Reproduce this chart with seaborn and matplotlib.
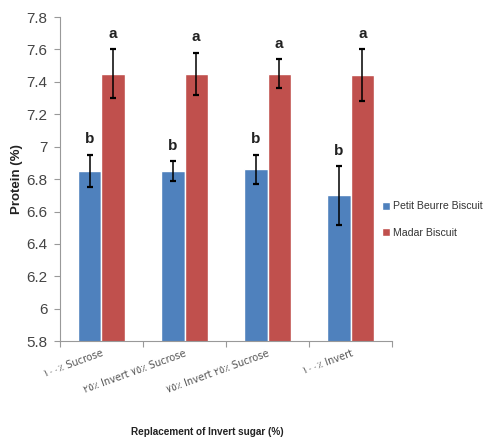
import numpy as np
import pandas as pd
import matplotlib
matplotlib.use("Agg")
import matplotlib.pyplot as plt
import seaborn as sns

sns.set_style("white")
plt.rcParams['font.family'] = ['Liberation Sans', 'DejaVu Sans']

# data
categories = ["١٠٠٪ Sucrose", "٢٥٪ Invert ٧٥٪ Sucrose",
              "٧٥٪ Invert ٢٥٪ Sucrose", "١٠٠٪ Invert"]
series = ["Petit Beurre Biscuit", "Madar Biscuit"]
petit_vals = [6.85, 6.85, 6.86, 6.70]
petit_err = [0.10, 0.06, 0.09, 0.18]
madar_vals = [7.45, 7.45, 7.45, 7.44]
madar_err = [0.15, 0.13, 0.09, 0.16]
letters_petit = ["b", "b", "b", "b"]
letters_madar = ["a", "a", "a", "a"]
colors = ["#4F81BD", "#C0504D"]

df = pd.DataFrame({
    "cat": categories * 2,
    "series": [series[0]] * 4 + [series[1]] * 4,
    "val": petit_vals + madar_vals,
    "err": petit_err + madar_err,
    "letter": letters_petit + letters_madar,
})

fig = plt.figure(figsize=(4.83, 4.38), dpi=100)
ax = fig.add_axes([0.124, 0.221, 0.688, 0.740])

sns.barplot(data=df, x="cat", y="val", hue="series", palette=colors,
            width=0.56, errorbar=None, saturation=1, ax=ax, legend=True)

# error bars + letters on each bar
bars = [p for p in ax.patches if p.get_height() > 0][:len(df)]
for p, (_, row) in zip(bars, df.iterrows()):
    xc = p.get_x() + p.get_width() / 2
    ax.errorbar(xc, row["val"], yerr=row["err"], fmt="none", ecolor="black",
                elinewidth=1.1, capsize=2.5, capthick=1.6)
    ax.annotate(row["letter"], (xc, row["val"] + row["err"]),
                xytext=(0, 6), textcoords="offset points", ha="center",
                va="bottom", fontsize=11, fontweight="bold", color="#222222")

ax.set_ylim(5.8, 7.8)
yt = np.arange(5.8, 7.81, 0.2)
ax.set_yticks(yt)
ax.set_yticklabels([f"{v:g}" for v in np.round(yt, 1)], fontsize=11,
                   color="#444444")
ax.tick_params(axis="y", length=4, color="#999999", width=0.8, pad=5,
               left=True)

ax.set_xlim(-0.5, 3.5)
ax.set_xticks(range(len(categories)))
ax.set_xticklabels(categories, rotation=20, ha="right",
                   rotation_mode="anchor", fontsize=7, color="#555555",
                   family=["DejaVu Sans"])
ax.set_xticks(np.arange(-0.5, 3.6, 1), minor=True)
ax.tick_params(axis="x", which="major", length=0, pad=5)
ax.tick_params(axis="x", which="minor", length=4, color="#999999",
               width=0.8, bottom=True)

for s in ["top", "right"]:
    ax.spines[s].set_visible(False)
for s in ["left", "bottom"]:
    ax.spines[s].set_color("#999999")
    ax.spines[s].set_linewidth(0.8)

ax.set_xlabel("")
ax.set_ylabel("Protein (%)", fontsize=9.5, fontweight="bold",
              color="#222222", labelpad=2)
fig.text(0.429, 0.014, "Replacement of Invert sugar (%)", ha="center",
         va="center", fontsize=7.2, fontweight="bold", color="#222222")

ax.legend(loc="center left", bbox_to_anchor=(0.94, 0.375), frameon=False,
          handlelength=0.75, handleheight=0.75, handletextpad=0.3,
          labelspacing=1.55, prop={"size": 7.6})
for t in ax.get_legend().get_texts():
    t.set_color("#333333")

fig.savefig("out.png", dpi=100)
